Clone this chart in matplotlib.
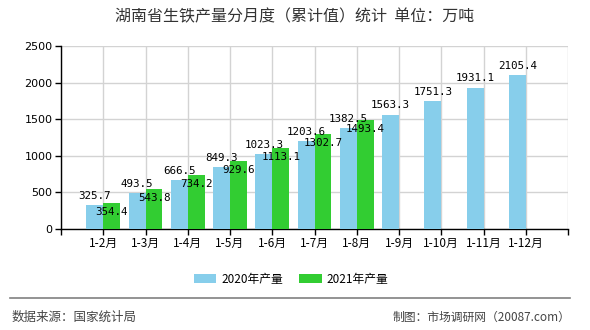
import numpy as np
import matplotlib
matplotlib.use("Agg")
import matplotlib.pyplot as plt
from matplotlib.lines import Line2D

plt.rcParams['font.family'] = ['Noto Sans CJK SC', 'DejaVu Sans']

# data
months = ['1-2月', '1-3月', '1-4月', '1-5月', '1-6月', '1-7月',
          '1-8月', '1-9月', '1-10月', '1-11月', '1-12月']
output_2020 = [325.7, 493.5, 666.5, 849.3, 1023.3, 1203.6,
               1382.5, 1563.3, 1751.3, 1931.1, 2105.4]
output_2021 = [354.4, 543.8, 734.2, 929.6, 1113.1, 1302.7, 1493.4]
y_ticks = [0, 500, 1000, 1500, 2000, 2500]

title = '湖南省生铁产量分月度（累计值）统计  单位：万吨'
source = '数据来源：国家统计局'
maker = '制图：市场调研网（20087.com）'

blue = '#87CEEB'
green = '#32CD32'

fig = plt.figure(figsize=(5.9, 3.3), dpi=100)
ax = fig.add_axes([61 / 590, 1 - 229 / 330, 507 / 590, 183 / 330])

# categories sit on slot boundaries 1..11
x = np.arange(1, len(months) + 1)
bw = 0.4
ax.bar(x[:len(output_2020)], output_2020, width=-bw, align='edge',
       color=blue, zorder=3, label='2020年产量')
ax.bar(x[:len(output_2021)], output_2021, width=bw, align='edge',
       color=green, zorder=3, label='2021年产量')

for xi, v in zip(x, output_2020):
    ax.annotate(f'{v:.1f}', (xi - bw / 2, v), xytext=(0, 3),
                textcoords='offset points', ha='center', va='bottom',
                fontsize=7.8, family='DejaVu Sans Mono', color='black',
                zorder=5)
for xi, v in zip(x, output_2021):
    ax.annotate(f'{v:.1f}', (xi + bw / 2, v), xytext=(0, -3),
                textcoords='offset points', ha='center', va='top',
                fontsize=7.8, family='DejaVu Sans Mono', color='black',
                zorder=5)

ax.set_xlim(0, 12)
ax.set_ylim(0, 2500)
ax.set_xticks(np.arange(0, 13))
ax.set_xticklabels([''] + months + [''], fontsize=8.5)
ax.set_yticks(y_ticks)
ax.set_yticklabels([str(t) for t in y_ticks], fontsize=8, family='DejaVu Sans')
ax.tick_params(axis='both', length=4, width=1, color='black', pad=2)

ax.grid(True, color='#d3d3d3', linewidth=1, zorder=0)
ax.set_axisbelow(True)
for s in ['top', 'right']:
    ax.spines[s].set_visible(False)
ax.spines['left'].set_color('black')
ax.spines['bottom'].set_color('black')
ax.spines['left'].set_linewidth(1)
ax.spines['bottom'].set_linewidth(1)

fig.text(0.5, 1 - 17 / 330, title, ha='center', va='center',
         fontsize=11.5, color='#333333')

fig.legend(loc='center', bbox_to_anchor=(291 / 590, 1 - 279 / 330), ncol=2,
           frameon=False, fontsize=8.5, handlelength=1.9, handleheight=0.85,
           handletextpad=0.4, columnspacing=1.4)

fig.add_artist(Line2D([10 / 590, 570 / 590], [1 - 298 / 330, 1 - 298 / 330],
                      color='#808080', linewidth=1.2))
fig.text(12 / 590, 1 - 317 / 330, source, ha='left', va='center',
         fontsize=9, color='#444444')
fig.text(570 / 590, 1 - 317 / 330, maker, ha='right', va='center',
         fontsize=8.5, color='#444444')

fig.savefig('out.png', dpi=100)
